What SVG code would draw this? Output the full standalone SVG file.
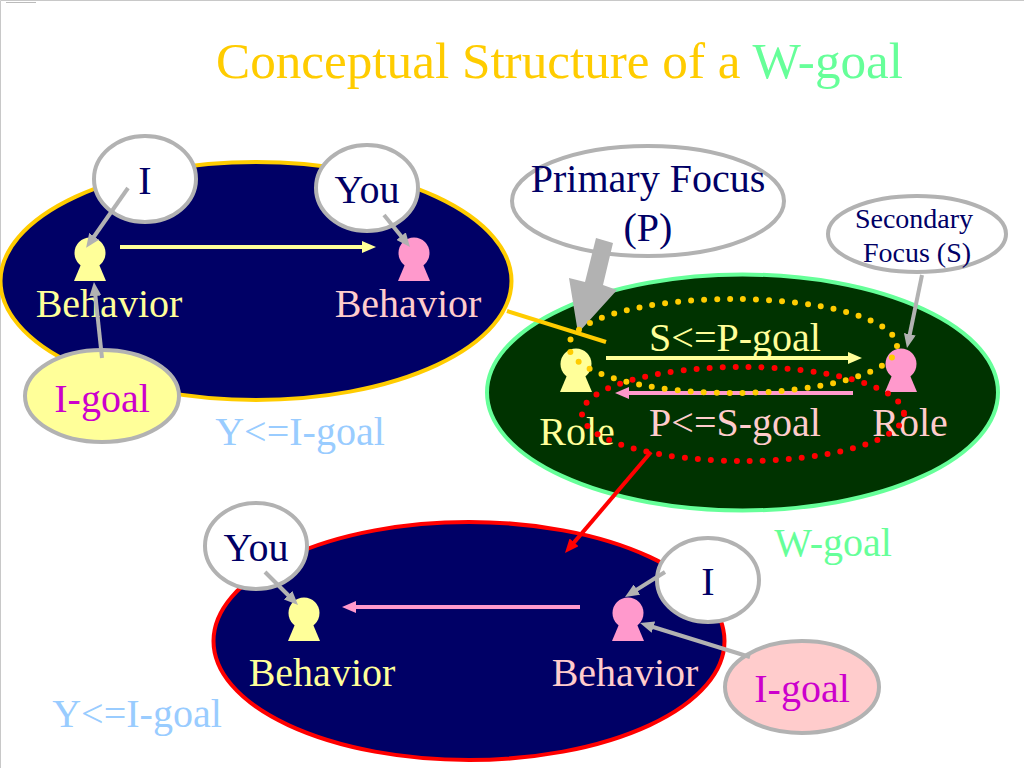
<svg xmlns="http://www.w3.org/2000/svg" width="1024" height="768" viewBox="0 0 1024 768">
<style>
text{font-family:"Liberation Serif","Times New Roman",serif;font-size:40px;text-anchor:middle}
.t{font-size:51.200px;text-anchor:start}
.s{font-size:28px}
.navy{fill:#000066}.yel{fill:#ffff99}.pnk{fill:#ffcccc}.blu{fill:#99ccff}.grn{fill:#66ff99}.mag{fill:#cc00cc}.gld{fill:#ffcc00}
.big{stroke-width:4}
.bub{fill:#fff;stroke:#b2b2b2;stroke-width:4}
.c{fill:none;stroke-width:4}
.g{stroke:#b2b2b2}
.dots{fill:none;stroke-width:6;stroke-linecap:round;stroke-dasharray:0 13}
</style>
<defs>
<marker id="mY" markerUnits="userSpaceOnUse" markerWidth="14" markerHeight="12" viewBox="0 0 14 12" refX="2" refY="6" orient="auto"><path d="M0 0L14 6L0 12z" fill="#ffff99"/></marker>
<marker id="mP" markerUnits="userSpaceOnUse" markerWidth="14" markerHeight="12" viewBox="0 0 14 12" refX="2" refY="6" orient="auto"><path d="M0 0L14 6L0 12z" fill="#ff99cc"/></marker>
<marker id="mG" markerUnits="userSpaceOnUse" markerWidth="14" markerHeight="12" viewBox="0 0 14 12" refX="2" refY="6" orient="auto"><path d="M0 0L14 6L0 12z" fill="#b2b2b2"/></marker>
<marker id="mR" markerUnits="userSpaceOnUse" markerWidth="14" markerHeight="12" viewBox="0 0 14 12" refX="2" refY="6" orient="auto"><path d="M0 0L14 6L0 12z" fill="#ff0000"/></marker>
<g id="person"><circle cx="0" cy="0" r="15.5"/><path d="M-8 9L-16 28H16L8 9z"/></g>
</defs>
<rect width="1024" height="768" fill="#fff"/>
<path d="M0.5 768V0.5H1024" fill="none" stroke="#c8c8c8"/>
<path d="M6 2.500H36" stroke="#bbbbbb" stroke-width="1"/>
<text class="t" x="216" y="78"><tspan class="gld">Conceptual Structure of a </tspan><tspan class="grn">W-goal</tspan></text>

<g id="goal-top"><ellipse cx="256" cy="281" rx="255.500" ry="119" fill="#000066" stroke="#ffcc00" class="big"/></g>
<g id="goal-w"><ellipse cx="742.500" cy="392.500" rx="255.500" ry="118" fill="#003300" stroke="#66ff99" class="big"/></g>
<g id="goal-bottom"><ellipse cx="469" cy="641" rx="255.500" ry="119" fill="#000066" stroke="#ff0000" class="big"/></g>

<g id="person-top-i" fill="#ffff99"><use href="#person" x="90" y="253"/><text class="yel" x="109" y="317">Behavior</text></g>
<g id="person-top-you" fill="#ff99cc"><use href="#person" x="414" y="253"/><text class="pnk" x="408" y="317">Behavior</text></g>
<g id="person-role-p" fill="#ffff99"><use href="#person" x="576" y="364"/><text class="yel" x="577" y="445">Role</text></g>
<g id="person-role-s" fill="#ff99cc"><use href="#person" x="901" y="364"/><text class="pnk" x="910" y="436">Role</text></g>
<g id="person-bottom-you" fill="#ffff99"><use href="#person" x="304" y="613"/><text class="yel" x="322" y="686">Behavior</text></g>
<g id="person-bottom-i" fill="#ff99cc"><use href="#person" x="628" y="613"/><text class="pnk" x="625" y="686">Behavior</text></g>

<g id="bubble-i-top"><ellipse class="bub" cx="145" cy="179" rx="51" ry="43"/><text class="navy" x="145" y="194">I</text></g>
<g id="bubble-you-top"><ellipse class="bub" cx="367" cy="188" rx="51" ry="43"/><text class="navy" x="367" y="203">You</text></g>
<g id="bubble-primary"><ellipse class="bub" cx="648" cy="201" rx="136" ry="55"/><text class="navy" x="648" y="192">Primary Focus</text><text class="navy" x="648" y="241">(P)</text></g>
<g id="bubble-secondary"><ellipse class="bub" cx="917" cy="234" rx="89" ry="38"/><text class="navy s" x="914" y="228">Secondary</text><text class="navy s" x="917" y="262">Focus (S)</text></g>
<g id="bubble-igoal-top"><ellipse class="bub" style="fill:#ffff99" cx="102" cy="396" rx="77" ry="46"/><text class="mag" x="102" y="412">I-goal</text></g>
<g id="bubble-you-bottom"><ellipse class="bub" cx="256" cy="546" rx="51" ry="43"/><text class="navy" x="256" y="561">You</text></g>
<g id="bubble-i-bottom"><ellipse class="bub" cx="708" cy="580" rx="51" ry="42"/><text class="navy" x="708" y="595">I</text></g>
<g id="bubble-igoal-bottom"><ellipse class="bub" style="fill:#ffcccc" cx="802" cy="687" rx="77" ry="46"/><text class="mag" x="802" y="702">I-goal</text></g>

<g id="label-y-top"><text class="blu" x="300" y="445">Y&lt;=I-goal</text></g>
<g id="label-y-bottom"><text class="blu" x="137" y="727">Y&lt;=I-goal</text></g>
<g id="label-w"><text class="grn" x="833" y="556">W-goal</text></g>
<g id="label-sp"><text class="yel" x="735" y="351">S&lt;=P-goal</text></g>
<g id="label-ps"><text class="pnk" x="735" y="436">P&lt;=S-goal</text></g>

<g id="connectors">
<path class="c" stroke="#ffff99" marker-end="url(#mY)" d="M120 247H364"/>
<path class="c" stroke="#ffff99" marker-end="url(#mY)" d="M606 358H850"/>
<path class="c" stroke="#ff99cc" marker-end="url(#mP)" d="M853 393H627"/>
<path class="c" stroke="#ff99cc" marker-end="url(#mP)" d="M580 607H354"/>
<path class="c g" marker-end="url(#mG)" d="M128 188L93 238"/>
<path class="c g" marker-end="url(#mG)" d="M102 358L95.200 294"/>
<path class="c g" marker-end="url(#mG)" d="M384 215L402.400 237.700"/>
<path class="c g" marker-end="url(#mG)" d="M922 275L909.400 336.200"/>
<path class="c g" marker-end="url(#mG)" d="M265 572L289.500 596.500"/>
<path class="c g" marker-end="url(#mG)" d="M665 572L635.200 590.600"/>
<path class="c g" marker-end="url(#mG)" d="M750 657L651.500 626.500"/>
<path fill="#b2b2b2" d="M596 238L613 243L603 285L617 290L578 333L569 278L585 282z"/>
<path class="c" stroke="#ffcc00" d="M507 311L606 342"/>
<path class="c" stroke="#ff0000" marker-end="url(#mR)" d="M651 452L572.800 543.900"/>
<ellipse class="dots" stroke="#ffcc00" cx="733" cy="346" rx="164" ry="47"/>
<ellipse class="dots" stroke="#ff0000" cx="743" cy="414" rx="161" ry="47"/>
</g>
</svg>
